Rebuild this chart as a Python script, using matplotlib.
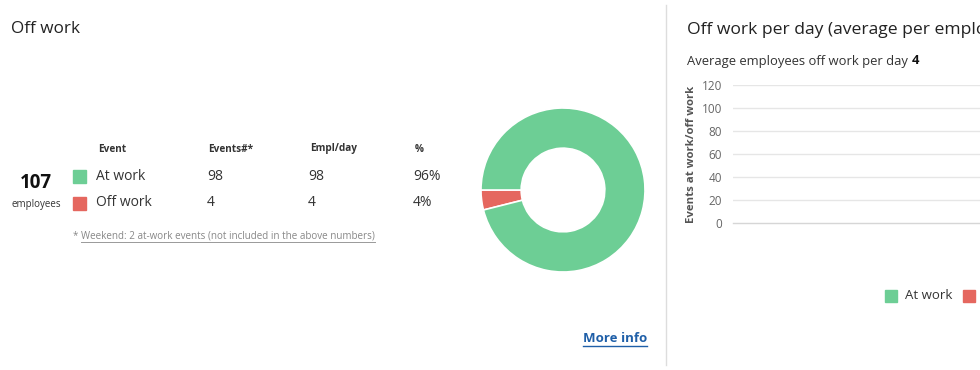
import matplotlib
matplotlib.use("Agg")
import matplotlib.pyplot as plt
from matplotlib.lines import Line2D
from matplotlib.patches import Rectangle

plt.rcParams['font.family'] = ['Open Sans', 'DejaVu Sans']

# ---- data ----
events = ["At work", "Off work"]
event_counts = [98, 4]
empl_per_day = [98, 4]
percent = ["96%", "4%"]
total_employees = 107
weekend_events = 2
avg_off_per_day = 4
y_ticks = [0, 20, 40, 60, 80, 100, 120]
colors = ["#6dce95", "#e5675f"]

W, H = 980, 370
fig = plt.figure(figsize=(W / 100, H / 100), dpi=100)
fig.patch.set_facecolor("white")


def fx(x):
    return x / W


def fy(y):
    return 1 - y / H


def txt(x, y, s, **kw):
    kw.setdefault("va", "center")
    kw.setdefault("ha", "left")
    return fig.text(fx(x), fy(y), s, **kw)


def underline(t, color, lw=0.8, offset=2):
    fig.canvas.draw()
    bb = t.get_window_extent()
    yline = bb.y0 - offset + 1
    fig.add_artist(Line2D([bb.x0 / W, bb.x1 / W], [yline / H, yline / H],
                          color=color, lw=lw, transform=fig.transFigure))


# ---- left panel ----
txt(11, 29, "Off work", fontsize=12.3, color="#222222")

hdr_x = [98, 208, 310, 415]
for x, s in zip(hdr_x, ["Event", "Events#*", "Empl/day", "%"]):
    txt(x, 149, s, fontsize=7.2, fontweight="bold", color="#333333")

row_y = [177, 203]
for i, ry in enumerate(row_y):
    fig.add_artist(Rectangle((fx(73), fy(ry + 6.5)), 13 / W, 13 / H,
                             transform=fig.transFigure, color=colors[i]))
    txt(96, ry, events[i], fontsize=10, color="#333333")
    txt(207, ry, str(event_counts[i]), fontsize=10, color="#333333")
    txt(308, ry, str(empl_per_day[i]), fontsize=10, color="#333333")
    txt(413, ry, percent[i], fontsize=10, color="#333333")

txt(36, 183, str(total_employees), fontsize=13.5, fontweight="bold",
    ha="center", color="#111111")
txt(36, 204, "employees", fontsize=7, ha="center", color="#333333")

txt(73, 236, "*", fontsize=7, color="#888888")
fn = txt(81, 236, f"Weekend: {weekend_events} at-work events (not included in the above numbers)",
         fontsize=7.1, color="#888888")

mi = txt(583, 339, "More info", fontsize=9.5, fontweight="bold", color="#1f5fa8")

# donut
cx, cy, r = 563, 190, 82
axp = fig.add_axes([fx(cx - r), fy(cy + r), 2 * r / W, 2 * r / H])
axp.pie([event_counts[1], event_counts[0]], colors=[colors[1], colors[0]],
        startangle=180, counterclock=True, radius=1,
        wedgeprops=dict(width=0.49, edgecolor="white", linewidth=1.2))
axp.set_xlim(-1, 1)
axp.set_ylim(-1, 1)
axp.set_aspect("equal")
axp.axis("off")

# divider
fig.add_artist(Line2D([fx(666), fx(666)], [fy(5), fy(365)], color="#dddddd",
                      lw=1, transform=fig.transFigure))

# ---- right panel ----
txt(687, 30, "Off work per day (average per employee)", fontsize=12.6, color="#222222")
sub = txt(687, 61, "Average employees off work per day ", fontsize=9.4, color="#333333")
fig.canvas.draw()
bb = sub.get_window_extent()
fig.text(bb.x1 / W, fy(61), str(avg_off_per_day), fontsize=9.4, fontweight="bold",
         color="#111111", va="center", ha="left")

ax_l, ax_t, ax_b = 733, 85, 223
ax = fig.add_axes([fx(ax_l), fy(ax_b), 400 / W, (ax_b - ax_t) / H])
ax.set_ylim(0, 120)
ax.set_xlim(0, 1)
ax.set_yticks(y_ticks)
ax.set_yticklabels([str(v) for v in y_ticks], fontsize=8.5, color="#666666")
ax.tick_params(axis="y", length=0, pad=8)
ax.set_xticks([])
for v in y_ticks[1:]:
    ax.axhline(v, color="#e6e6e6", lw=1)
for s in ["top", "right", "left"]:
    ax.spines[s].set_visible(False)
ax.spines["bottom"].set_color("#d6d6d6")
ax.spines["bottom"].set_linewidth(1.0)
ax.set_facecolor("none")
fig.text(fx(691), fy((ax_t + ax_b) / 2), "Events at work/off work", rotation=90,
         fontsize=8.2, fontweight="bold", color="#555555", ha="center", va="center")

# legend
fig.add_artist(Rectangle((fx(885), fy(301.5)), 12 / W, 12 / H,
                         transform=fig.transFigure, color=colors[0]))
txt(905, 295.5, events[0], fontsize=9.5, color="#333333")
fig.add_artist(Rectangle((fx(963), fy(301.5)), 12 / W, 12 / H,
                         transform=fig.transFigure, color=colors[1]))
txt(983, 295.5, events[1], fontsize=9.5, color="#333333")

underline(fn, "#999999", lw=0.7, offset=1)
underline(mi, "#1f5fa8", lw=1.0, offset=1)

fig.savefig("out.png", dpi=100)
